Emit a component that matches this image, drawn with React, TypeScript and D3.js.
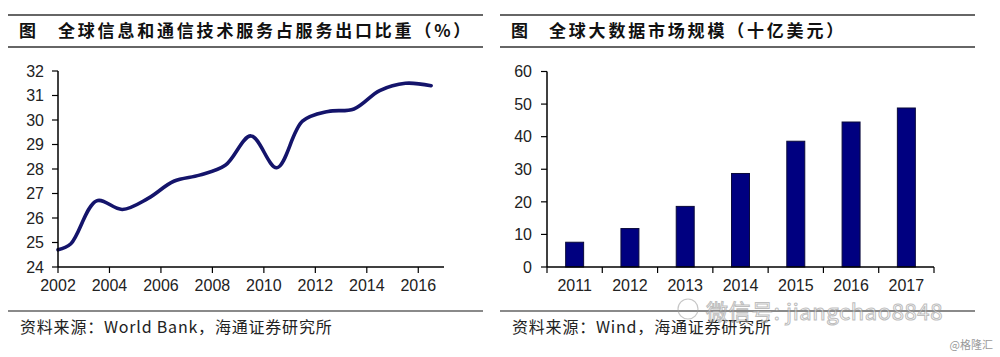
import React from "react";
import * as d3 from "d3";

const lineYears = [2002, 2002.5, 2003.5, 2004.5, 2005.5, 2006.5, 2007.5, 2008.5, 2009.5, 2010.5, 2011.5, 2012.5, 2013.5, 2014.5, 2015.5, 2016.5];
const lineValues = [24.7, 24.95, 26.7, 26.35, 26.8, 27.5, 27.75, 28.15, 29.35, 28.05, 29.95, 30.35, 30.45, 31.2, 31.5, 31.4];
const lineTicksX = [2002, 2004, 2006, 2008, 2010, 2012, 2014, 2016];
const lineTicksY = [24, 25, 26, 27, 28, 29, 30, 31, 32];

const barCategories = ["2011", "2012", "2013", "2014", "2015", "2016", "2017"];
const barValues = [7.6, 11.8, 18.6, 28.7, 38.6, 44.5, 48.8];
const barTicksY = [0, 10, 20, 30, 40, 50, 60];

const leftTitle = "全球信息和通信技术服务占服务出口比重（%）";
const rightTitle = "全球大数据市场规模（十亿美元）";
const leftSource = "资料来源：World Bank，海通证券研究所";
const rightSource = "资料来源：Wind，海通证券研究所";

const NAVY = "#14146b";
const AX = "#000";
const NUM_FONT = "'Liberation Sans', Arial, sans-serif";
const CJK = "'Noto Sans CJK SC', sans-serif";

function LineChart() {
  const x = d3.scaleLinear().domain([2002, 2017]).range([58, 444]);
  const y = d3.scaleLinear().domain([24, 32]).range([267, 71]);
  const line = d3
    .line<number>()
    .x((_, i) => x(lineYears[i]))
    .y((d) => y(d))
    .curve(d3.curveCatmullRom.alpha(0.5));
  return (
    <g>
      <path d={line(lineValues) || ""} fill="none" stroke={NAVY} strokeWidth={3.6} strokeLinecap="round" strokeLinejoin="round" />
      <line x1={x.range()[0]} x2={x.range()[0]} y1={y(24)} y2={y(32)} stroke={AX} strokeWidth={1.5} />
      <line x1={x.range()[0]} x2={x.range()[1]} y1={y(24)} y2={y(24)} stroke={AX} strokeWidth={1.5} />
      {lineTicksY.map((t) => (
        <g key={t}>
          <line x1={52} x2={58} y1={y(t)} y2={y(t)} stroke={AX} strokeWidth={1.2} />
          <text x={44} y={y(t)} dy="0.36em" textAnchor="end" fontFamily={NUM_FONT} fontSize={16} fill="#222">{t}</text>
        </g>
      ))}
      {lineTicksX.map((t) => (
        <g key={t}>
          <line x1={x(t)} x2={x(t)} y1={267} y2={273} stroke={AX} strokeWidth={1.2} />
          <text x={x(t)} y={291} textAnchor="middle" fontFamily={NUM_FONT} fontSize={16} fill="#222">{t}</text>
        </g>
      ))}
    </g>
  );
}

function BarChart() {
  const x = d3.scaleBand().domain(barCategories).range([547, 934]).paddingInner(0.675).paddingOuter(0.3375);
  const xb = d3.scaleBand().domain(barCategories).range([547, 934]);
  const y = d3.scaleLinear().domain([0, 60]).range([267, 71.5]);
  return (
    <g>
      {barCategories.map((c, i) => (
        <rect key={c} x={x(c)} y={y(barValues[i])} width={x.bandwidth()} height={y(0) - y(barValues[i])} fill="#000080" stroke="#0a0a3a" strokeWidth={1} />
      ))}
      <line x1={547} x2={547} y1={y(0)} y2={y(60)} stroke={AX} strokeWidth={1.5} />
      <line x1={547} x2={934} y1={y(0)} y2={y(0)} stroke={AX} strokeWidth={1.5} />
      {barTicksY.map((t) => (
        <g key={t}>
          <line x1={541} x2={547} y1={y(t)} y2={y(t)} stroke={AX} strokeWidth={1.2} />
          <text x={532} y={y(t)} dy="0.36em" textAnchor="end" fontFamily={NUM_FONT} fontSize={16} fill="#222">{t}</text>
        </g>
      ))}
      {barCategories.map((c, i) => (
        <g key={c}>
          <line x1={xb(c)} x2={xb(c)} y1={267} y2={273} stroke={AX} strokeWidth={1.2} />
          {i === barCategories.length - 1 && (
            <line x1={xb(c)! + xb.bandwidth()} x2={xb(c)! + xb.bandwidth()} y1={267} y2={273} stroke={AX} strokeWidth={1.2} />
          )}
          <text x={xb(c)! + xb.bandwidth() / 2} y={291} textAnchor="middle" fontFamily={NUM_FONT} fontSize={16} fill="#222">{c}</text>
        </g>
      ))}
    </g>
  );
}

function Frame({ x0, x1, title, tx, source }: { x0: number; x1: number; title: string; tx: number; source: string }) {
  return (
    <g>
      <line x1={x0} x2={x1} y1={15} y2={15} stroke="#333" strokeWidth={1.3} />
      <line x1={x0} x2={x1} y1={47} y2={47} stroke="#333" strokeWidth={1.3} />
      <text x={x0 + 11} y={37} fontFamily={CJK} fontWeight="bold" fontSize={17} fill="#111">图</text>
      <text x={tx} y={37} fontFamily={CJK} fontWeight="bold" fontSize={17} letterSpacing={2.8} fill="#111">{title}</text>
      <line x1={x0} x2={x1} y1={311} y2={311} stroke="#8a8a8a" strokeWidth={2} />
      <text x={x0 + 12} y={333} fontFamily={CJK} fontSize={16} letterSpacing={0.8} fill="#222">{source}</text>
    </g>
  );
}

export default function App() {
  return (
    <svg width={1000} height={357} style={{ position: "absolute", left: 0, top: 0, background: "#fff" }}>
      <rect width={1000} height={357} fill="#fff" />
      <Frame x0={8} x1={483} title={leftTitle} tx={58} source={leftSource} />
      <Frame x0={500} x1={975} title={rightTitle} tx={549} source={rightSource} />
      <LineChart />
      <BarChart />
      <g opacity={0.55}>
        <circle cx={688} cy={309} r={10} fill="none" stroke="#999" strokeWidth={1.2} />
        <text x={706} y={320} fontFamily={CJK} fontSize={22} letterSpacing={0.6} fill="#fff" stroke="#888" strokeWidth={1}>微信号: jiangchao8848</text>
      </g>
      <text x={993} y={349} textAnchor="end" fontFamily={CJK} fontSize={11} fill="#999">@格隆汇</text>
    </svg>
  );
}
